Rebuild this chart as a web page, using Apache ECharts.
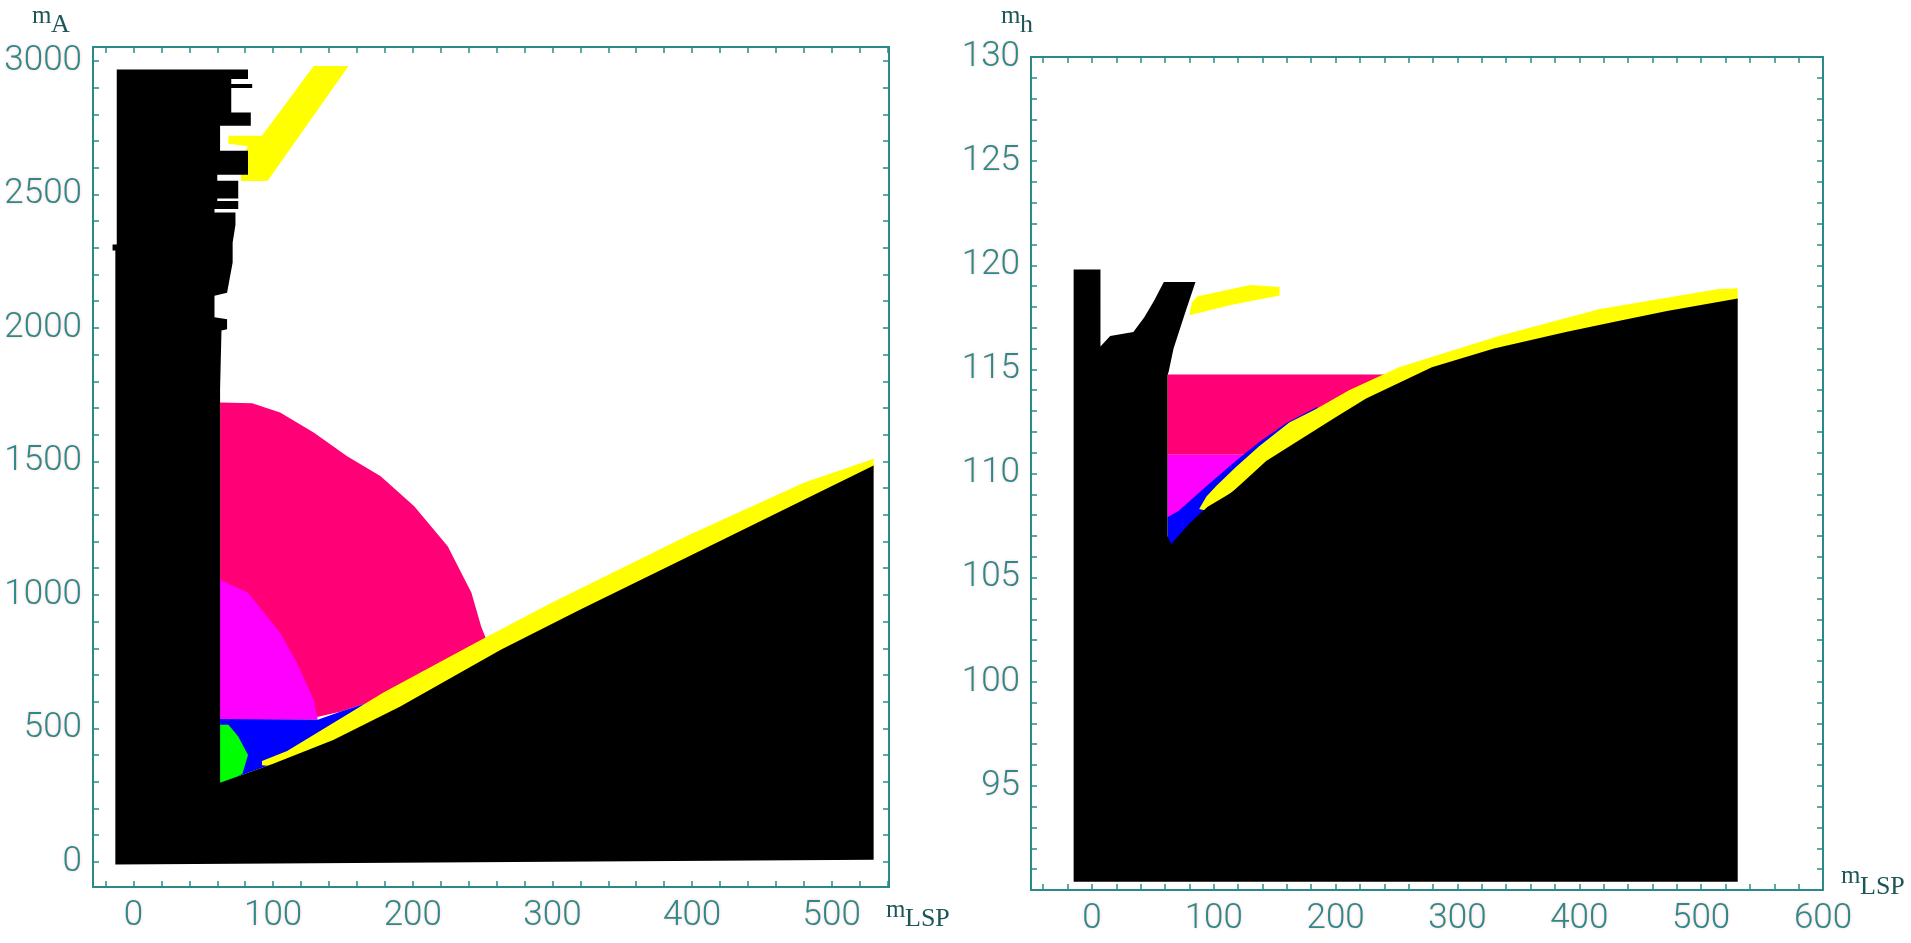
<!DOCTYPE html>
<html>
<head>
<meta charset="utf-8">
<script src="https://cdn.jsdelivr.net/npm/echarts@6/dist/echarts.min.js"></script>
<style>
  html, body { margin: 0; padding: 0; background: #fff; }
  #container { width: 1911px; height: 943px; }
</style>
</head>
<body>
<div id="container"></div>
<script>
// ---- left panel: m_A versus m_LSP ----
const maXLabels = [0, 100, 200, 300, 400, 500];
const maYLabels = [0, 500, 1000, 1500, 2000, 2500, 3000];

const maBlack = [
  [-13, -10], [-13, 2290], [-15, 2290], [-15, 2312], [-12, 2312], [-12, 2968],
  [82, 2968], [82, 2932], [70, 2932], [70, 2913], [85, 2913], [85, 2898], [70, 2898],
  [70, 2807], [84, 2807], [84, 2757], [62, 2757], [62, 2663], [82, 2663], [82, 2574],
  [60, 2574], [60, 2551], [75, 2551], [75, 2485], [60, 2485], [60, 2475], [75, 2475],
  [75, 2445], [58, 2445], [58, 2432], [73, 2432], [73, 2385], [71, 2320], [71, 2245],
  [67, 2132], [58, 2120], [58, 2040], [67, 2032], [67, 1995], [63, 1990], [62, 1770],
  [62, 296], [100, 368], [143, 457], [191, 582], [263, 795], [320, 945], [400, 1150],
  [530, 1485], [530, 8]
];
const maPink = [
  [62, 540], [62, 1721], [85, 1718], [105, 1683], [129, 1608], [153, 1519], [177, 1444],
  [201, 1332], [225, 1182], [242, 1008], [249, 881], [256, 790], [230, 700], [179, 615],
  [168, 596], [148, 562], [129, 540]
];
const maMagenta = [[62, 532], [62, 1057], [82, 1008], [105, 858], [117, 746], [129, 607], [132, 532]];
const maBlue = [
  [62, 296], [62, 535], [132, 532], [148, 562], [168, 596], [179, 615], [230, 720],
  [230, 650], [191, 582], [143, 457], [100, 368]
];
const maGreen = [[62, 296], [62, 514], [68, 514], [75, 470], [82, 400], [78, 330], [67, 296]];
const maYellow = [
  [92, 362], [92, 378], [110, 415], [179, 634], [249, 832], [299, 970], [400, 1230],
  [480, 1420], [530, 1510], [530, 1470], [400, 1140], [263, 785], [191, 572], [143, 447], [100, 358]
];
const maYellowTop = [[77, 2550], [96, 2550], [154, 2981], [129, 2981], [92, 2720], [68, 2720], [68, 2690], [82, 2680], [77, 2632]];

// ---- right panel: m_h versus m_LSP ----
const mhXLabels = [0, 100, 200, 300, 400, 500, 600];
const mhYLabels = [95, 100, 105, 110, 115, 120, 125, 130];

const mhBlack = [
  [-15, 90.4], [-15, 119.8], [7, 119.8], [7, 116.1], [15, 116.6], [34, 116.8], [43, 117.5],
  [51, 118.3], [59, 119.2], [85, 119.2], [77, 117.8], [67, 116.0], [63, 114.9], [62, 114.7],
  [62, 107.0], [65, 106.6], [80, 107.6], [95, 108.4], [115, 109.1], [143, 110.6], [170, 111.6],
  [200, 112.7], [225, 113.6], [279, 115.1], [330, 116.0], [389, 116.8], [430, 117.3],
  [472, 117.8], [530, 118.4], [530, 90.4]
];
const mhPink = [[62, 110.9], [62, 114.75], [250, 114.75], [250, 110.9]];
const mhMagenta = [[62, 107.9], [62, 110.9], [180, 110.9], [180, 107.9]];
const mhBlue = [
  [62, 106.7], [62, 107.9], [71, 108.2], [96, 109.5], [118, 110.6], [137, 111.5], [159, 112.4],
  [185, 113.2], [185, 112.0], [143, 110.4], [115, 108.9], [95, 108.2], [80, 107.4], [65, 106.5]
];
const mhYellow = [
  [88, 108.3], [94, 108.9], [102, 109.4], [118, 110.3], [137, 111.3], [162, 112.45], [184, 113.1],
  [211, 114.0], [252, 115.1], [334, 116.6], [417, 117.9], [513, 118.85], [530, 118.9],
  [530, 118.2], [472, 117.6], [389, 116.6], [279, 114.9], [200, 112.5], [143, 110.4], [95, 108.2]
];
const mhYellowTop = [[80, 117.6], [115, 118.1], [154, 118.55], [154, 118.95], [130, 119.05], [86, 118.5], [82, 118.2]];

function steps(from, to, step) {
  const out = [];
  for (let v = from; v <= to + 1e-9; v += step) out.push(+v.toFixed(6));
  return out;
}
const maXTicks = steps(-20, 540, 20);
const maYTicks = steps(0, 3000, 100);
const mhXTicks = steps(-40, 600, 20);
const mhYTicks = steps(91, 130, 1);

const teal = '#2a8a8a';
const labelFont = "Roboto, 'Liberation Sans', sans-serif";

var dom = document.getElementById('container');
var myChart = echarts.init(dom, null, { renderer: 'canvas' });

function axis(pos, gridIndex, min, max, ticks, labels) {
  return {
    type: 'value', gridIndex: gridIndex, position: pos, min: min, max: max,
    axisLine: { show: true, onZero: false, lineStyle: { color: teal, width: 2 } },
    axisTick: { show: true, inside: true, length: 6, customValues: ticks, lineStyle: { color: teal, width: 1.5 } },
    axisLabel: labels ? {
      show: true, customValues: labels, color: teal, fontFamily: labelFont, fontSize: 35, fontWeight: 300,
      margin: (pos === 'left' || pos === 'right') ? 11 : 12,
      formatter: function (v) { return String(v); },
      textShadowColor: 'rgba(255,80,80,0.35)', textShadowBlur: 3
    } : { show: false },
    splitLine: { show: false }
  };
}

function region(gridIndex, pts, color, z) {
  return {
    type: 'custom', coordinateSystem: 'cartesian2d',
    xAxisIndex: gridIndex * 2, yAxisIndex: gridIndex * 2,
    data: pts, z: z, silent: true,
    renderItem: function (params, api) {
      if (params.dataIndex !== 0) return null;
      return {
        type: 'polygon',
        shape: { points: pts.map(p => api.coord(p)) },
        style: { fill: color }
      };
    }
  };
}

function name(x, y, main, sub, dy) {
  return [
    { type: 'text', left: x, top: y, style: { text: main, font: "25px 'Liberation Serif', serif", fill: '#1d5656' } },
    { type: 'text', left: x + 19, top: y + dy, style: { text: sub, font: "26px 'Liberation Serif', serif", fill: '#1d5656' } }
  ];
}

var option = {
  animation: false,
  backgroundColor: '#ffffff',
  grid: [
    { left: 93, top: 47, width: 796, height: 840, outerBoundsMode: 'none', containLabel: false },
    { left: 1031, top: 57, width: 792, height: 833, outerBoundsMode: 'none', containLabel: false }
  ],
  xAxis: [
    axis('bottom', 0, -29, 541, maXTicks, maXLabels),
    axis('top', 0, -29, 541, maXTicks, null),
    axis('bottom', 1, -50, 600, mhXTicks, mhXLabels),
    axis('top', 1, -50, 600, mhXTicks, null)
  ],
  yAxis: [
    axis('left', 0, -94, 3052, maYTicks, maYLabels),
    axis('right', 0, -94, 3052, maYTicks, null),
    axis('left', 1, 90, 130, mhYTicks, mhYLabels),
    axis('right', 1, 90, 130, mhYTicks, null)
  ],
  series: [
    region(0, maPink, '#ff0077', 1),
    region(0, maMagenta, '#ff00ff', 2),
    region(0, maBlue, '#0000ff', 3),
    region(0, maGreen, '#00ff00', 4),
    region(0, maYellow, '#ffff00', 5),
    region(0, maYellowTop, '#ffff00', 5),
    region(0, maBlack, '#000000', 6),
    region(1, mhPink, '#ff0077', 1),
    region(1, mhMagenta, '#ff00ff', 2),
    region(1, mhBlue, '#0000ff', 3),
    region(1, mhYellow, '#ffff00', 5),
    region(1, mhYellowTop, '#ffff00', 5),
    region(1, mhBlack, '#000000', 6)
  ],
  graphic: [].concat(
    name(32, 4, 'm', 'A', 8),
    name(886, 898, 'm', 'LSP', 8),
    name(1001, 4, 'm', 'h', 8),
    name(1841, 864, 'm', 'LSP', 10)
  )
};

myChart.setOption(option);
window.addEventListener('resize', myChart.resize);
</script>
</body>
</html>
